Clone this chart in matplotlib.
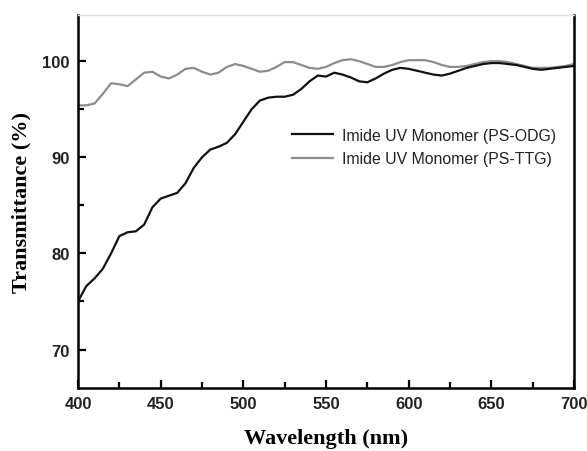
import numpy as np
import matplotlib
matplotlib.use("Agg")
import matplotlib.pyplot as plt
from matplotlib.ticker import MultipleLocator

# wavelength grid (nm), read at 5 nm steps
wavelength = np.arange(400, 701, 5)

# Imide UV Monomer (PS-ODG)
odg = [75.0, 76.6, 77.4, 78.4, 80.0, 81.8, 82.2, 82.3, 83.0, 84.8,
       85.7, 86.0, 86.3, 87.3, 88.9, 90.0, 90.8, 91.1, 91.5, 92.4,
       93.7, 95.0, 95.9, 96.2, 96.3, 96.3, 96.5, 97.1, 97.9, 98.5,
       98.4, 98.8, 98.6, 98.3, 97.9, 97.8, 98.2, 98.7, 99.1, 99.3,
       99.2, 99.0, 98.8, 98.6, 98.5, 98.7, 99.0, 99.3, 99.5, 99.7,
       99.8, 99.8, 99.7, 99.6, 99.4, 99.2, 99.1, 99.2, 99.3, 99.4,
       99.5]

# Imide UV Monomer (PS-TTG)
ttg = [95.4, 95.4, 95.6, 96.6, 97.7, 97.6, 97.4, 98.1, 98.8, 98.9,
       98.4, 98.2, 98.6, 99.2, 99.3, 98.9, 98.6, 98.8, 99.4, 99.7,
       99.5, 99.2, 98.9, 99.0, 99.4, 99.9, 99.9, 99.6, 99.3, 99.2,
       99.4, 99.8, 100.1, 100.2, 100.0, 99.7, 99.4, 99.4, 99.6, 99.9,
       100.1, 100.1, 100.1, 99.9, 99.6, 99.4, 99.4, 99.5, 99.7, 99.9,
       100.0, 100.0, 99.9, 99.7, 99.5, 99.3, 99.3, 99.3, 99.4, 99.5,
       99.7]

labels = ["Imide UV Monomer (PS-ODG)", "Imide UV Monomer (PS-TTG)"]

fig = plt.figure(figsize=(5.87, 4.52), dpi=100)
ax = fig.add_axes([0.1329, 0.1394, 0.978 - 0.1329, 0.9646 - 0.1394])

ax.plot(wavelength, odg, color="#111111", lw=1.6, label=labels[0], zorder=3)
ax.plot(wavelength, ttg, color="#8c8c8c", lw=1.6, label=labels[1], zorder=2)

ax.set_xlim(400, 700)
ax.set_ylim(66.0, 104.8)
ax.xaxis.set_major_locator(MultipleLocator(50))
ax.xaxis.set_minor_locator(MultipleLocator(25))
ax.yaxis.set_major_locator(MultipleLocator(10))
ax.yaxis.set_minor_locator(MultipleLocator(5))
ax.set_yticks([70, 80, 90, 100])

ax.tick_params(which="both", direction="in", top=False, right=False,
               width=1.6, color="black")
ax.tick_params(which="major", length=6, pad=6)
ax.tick_params(which="minor", length=4)

for side in ["left", "bottom", "right"]:
    ax.spines[side].set_linewidth(1.8)
    ax.spines[side].set_color("black")
ax.spines["top"].set_color("#dddddd")
ax.spines["top"].set_linewidth(1.0)

for lab in ax.get_xticklabels() + ax.get_yticklabels():
    lab.set_fontfamily("Liberation Sans")
    lab.set_fontweight("bold")
    lab.set_fontsize(12)
    lab.set_color("#222222")

ax.set_xlabel("Wavelength (nm)", fontfamily="Liberation Serif",
              fontweight="bold", fontsize=16, labelpad=12)
ax.set_ylabel("Transmittance (%)", fontfamily="Liberation Serif",
              fontweight="bold", fontsize=16, labelpad=8)

leg = ax.legend(loc="center left", bbox_to_anchor=(0.403, 0.646), frameon=False,
                handlelength=2.6, handletextpad=0.55, labelspacing=0.55,
                prop={"family": "Liberation Sans", "size": 11.4})
for t in leg.get_texts():
    t.set_color("#222222")

fig.savefig("out.png", dpi=100)
